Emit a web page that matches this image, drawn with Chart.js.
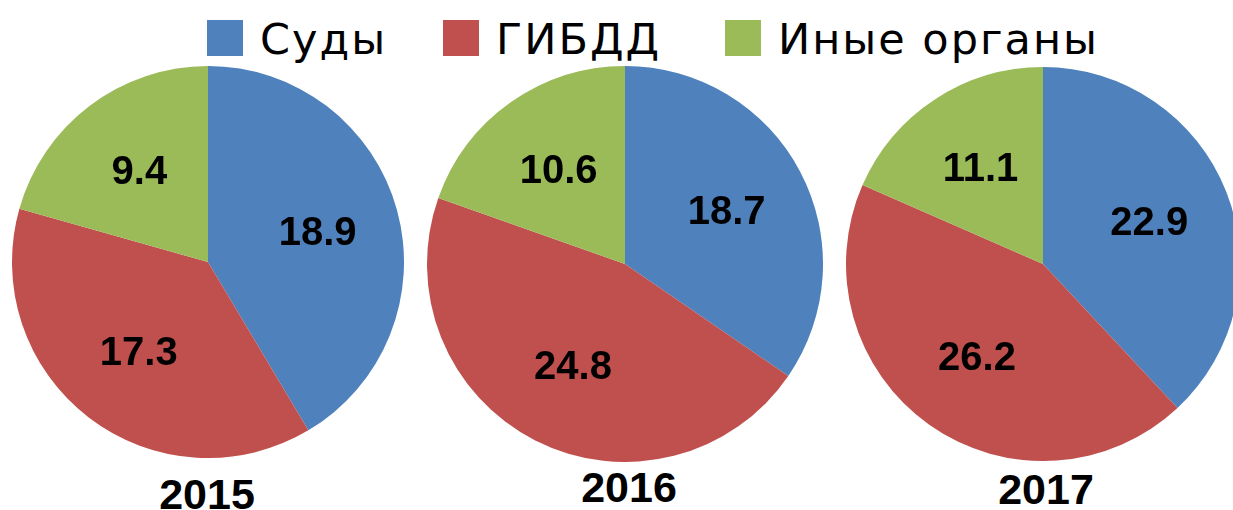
<!DOCTYPE html>
<html>
<head>
<meta charset="utf-8">
<script src="https://cdn.jsdelivr.net/npm/chart.js@4.4.1/dist/chart.umd.min.js"></script>
<style>
  html, body { margin: 0; padding: 0; background: #fff; overflow: hidden; }
  body { width: 1233px; height: 510px; position: relative; }
  .pie { position: absolute; }
  .legend-item { position: absolute; top: 20px; height: 36px; display: flex; align-items: center; }
  .legend-box { width: 36px; height: 36px; margin-right: 17px; }
  .legend-text { font-family: "DejaVu Sans", sans-serif; font-size: 43px; color: #000; line-height: 36px; position: relative; top: 1px; letter-spacing: 2px; }
  .year { position: absolute; font-family: "Liberation Sans", Arial, sans-serif; font-weight: bold; font-size: 43px; color: #000; transform: translateX(-50%); line-height: 1; }
</style>
</head>
<body>

<script>
// данные
var categories = ['Суды', 'ГИБДД', 'Иные органы'];
var years = ['2015', '2016', '2017'];
var values2015 = [18.9, 17.3, 9.4];
var values2016 = [18.7, 24.8, 10.6];
var values2017 = [22.9, 26.2, 11.1];
var colors = ['#4F81BD', '#C0504D', '#9BBB59'];

var allValues = [values2015, values2016, values2017];

// где рисовать каждый круг (центр и радиус)
var pies = [
  { cx: 208, cy: 262, r: 196, yearX: 207, yearY: 473 },
  { cx: 625, cy: 264, r: 198, yearX: 629, yearY: 466 },
  { cx: 1043, cy: 264, r: 197, yearX: 1046, yearY: 468 }
];

// легенда
var legendX = [207, 443, 725];
categories.forEach(function (name, i) {
  var item = document.createElement('div');
  item.className = 'legend-item';
  item.style.left = legendX[i] + 'px';
  item.innerHTML = '<div class="legend-box" style="background:' + colors[i] + '"></div>' +
    '<span class="legend-text">' + name + '</span>';
  document.body.appendChild(item);
});

// подписи значений внутри секторов
var valueLabels = {
  id: 'valueLabels',
  afterDatasetsDraw: function (chart) {
    var ctx = chart.ctx;
    var meta = chart.getDatasetMeta(0);
    var data = chart.data.datasets[0].data;
    ctx.save();
    ctx.font = 'bold 40px "Liberation Sans", Arial, sans-serif';
    ctx.fillStyle = '#000';
    ctx.textAlign = 'center';
    ctx.textBaseline = 'middle';
    meta.data.forEach(function (arc, i) {
      var p = arc.getProps(['x', 'y', 'startAngle', 'endAngle', 'outerRadius'], true);
      var mid = (p.startAngle + p.endAngle) / 2;
      var x = p.x + Math.cos(mid) * p.outerRadius * 0.58;
      var y = p.y + Math.sin(mid) * p.outerRadius * 0.58;
      ctx.fillText(data[i].toFixed(1), x, y + 2);
    });
    ctx.restore();
  }
};

pies.forEach(function (pos, k) {
  var size = pos.r * 2;
  var canvas = document.createElement('canvas');
  canvas.className = 'pie';
  canvas.width = size;
  canvas.height = size;
  canvas.style.left = (pos.cx - pos.r) + 'px';
  canvas.style.top = (pos.cy - pos.r) + 'px';
  document.body.appendChild(canvas);

  new Chart(canvas.getContext('2d'), {
    type: 'pie',
    data: {
      labels: categories,
      datasets: [{
        data: allValues[k],
        backgroundColor: colors,
        borderWidth: 0,
        hoverOffset: 0,
        offset: 0
      }]
    },
    options: {
      responsive: false,
      animation: false,
      devicePixelRatio: 1,
      layout: { padding: 0 },
      plugins: {
        legend: { display: false },
        tooltip: { enabled: false }
      },
      events: []
    },
    plugins: [valueLabels]
  });

  var yr = document.createElement('div');
  yr.className = 'year';
  yr.style.left = pos.yearX + 'px';
  yr.style.top = pos.yearY + 'px';
  yr.textContent = years[k];
  document.body.appendChild(yr);
});
</script>
</body>
</html>
